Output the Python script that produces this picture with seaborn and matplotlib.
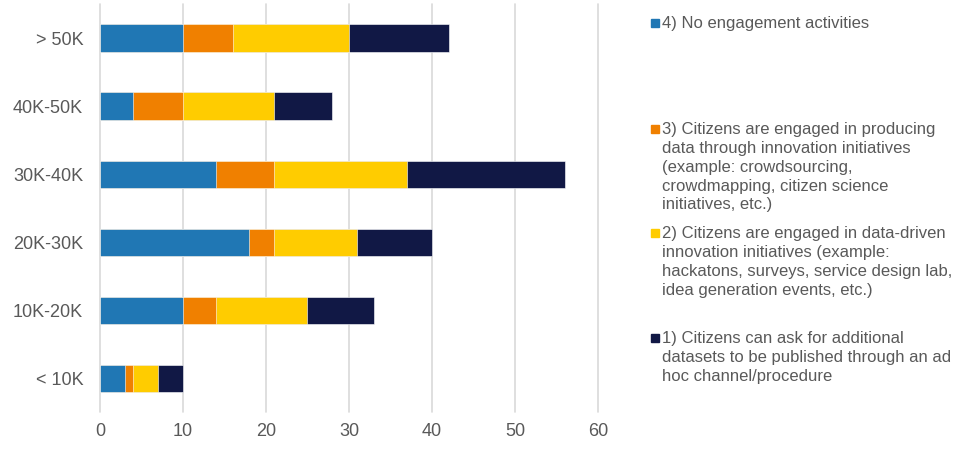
import numpy as np
import pandas as pd
import matplotlib.pyplot as plt
import seaborn as sns
from matplotlib.patches import Rectangle

# data
categories = ['> 50K', '40K-50K', '30K-40K', '20K-30K', '10K-20K', '< 10K']
no_engagement = [10, 4, 14, 18, 10, 3]
producing_data = [6, 6, 7, 3, 4, 1]
data_driven = [14, 11, 16, 10, 11, 3]
ask_datasets = [12, 7, 19, 9, 8, 3]

series_labels = [
    '4) No engagement activities',
    '3) Citizens are engaged in producing\ndata through innovation initiatives\n(example: crowdsourcing,\ncrowdmapping, citizen science\ninitiatives, etc.)',
    '2) Citizens are engaged in data-driven\ninnovation initiatives (example:\nhackatons, surveys, service design lab,\nidea generation events, etc.)',
    '1) Citizens can ask for additional\ndatasets to be published through an ad\nhoc channel/procedure',
]
colors = ['#2077b4', '#f08000', '#ffcc00', '#111845']

sns.set_style('white')
plt.rcParams['font.family'] = ['Liberation Sans', 'DejaVu Sans']

df = pd.DataFrame({'cat': categories,
                   's4': no_engagement, 's3': producing_data,
                   's2': data_driven, 's1': ask_datasets})
cum = df[['s4', 's3', 's2', 's1']].cumsum(axis=1)

fig = plt.figure(figsize=(9.6, 4.5), dpi=100)
ax = fig.add_axes([0.104, 0.084, 0.519, 0.907])

# draw from the longest cumulative bar down so shorter segments sit on top
for col, c in zip(['s1', 's2', 's3', 's4'], colors[::-1]):
    sns.barplot(x=cum[col], y=df['cat'], color=c, orient='h', width=0.4,
                saturation=1, edgecolor='white', linewidth=0.4, ax=ax, zorder=3)

ax.set_xlim(0, 60)
ax.set_xticks(range(0, 61, 10))
ax.set_xlabel('')
ax.set_ylabel('')
ax.grid(axis='x', color='#d9d9d9', linewidth=1.2, zorder=0)
for gl in ax.get_xgridlines():
    gl.set_clip_on(False)
ax.set_axisbelow(True)
for s in ax.spines.values():
    s.set_visible(False)
ax.tick_params(axis='both', length=0, labelsize=13, colors='#595959')
ax.tick_params(axis='x', pad=8)
ax.tick_params(axis='y', pad=12)

# legend entries, placed like the reference
legend_y = [23, 129, 233, 338]
for lab, c, yp in zip(series_labels, colors, legend_y):
    yf = 1 - yp / 450
    fig.patches.append(Rectangle((651 / 960, yf - 4 / 450), 8 / 960, 8 / 450,
                                 transform=fig.transFigure, color=c))
    fig.text(662 / 960, yf + 7 / 450, lab, ha='left', va='top',
             fontsize=12, color='#595959', linespacing=1.32)

fig.savefig('out.png', dpi=100)
